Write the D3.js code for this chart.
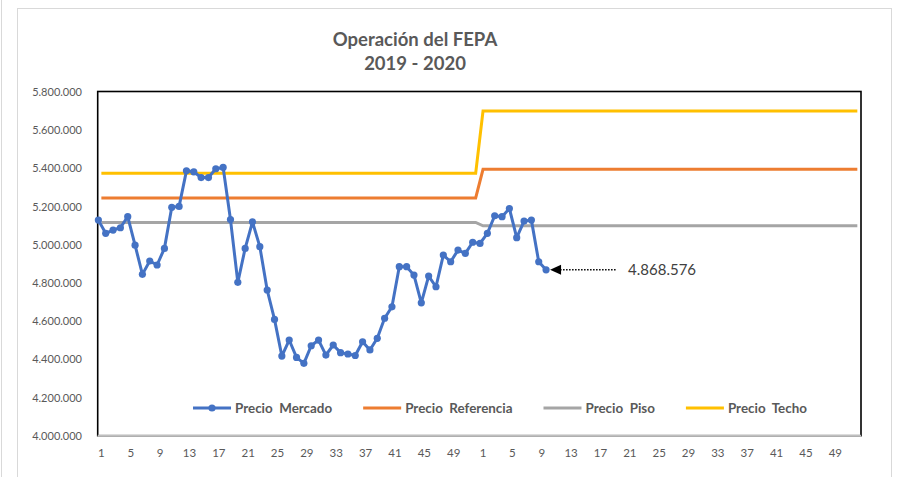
<!DOCTYPE html>
<html>
<head>
<meta charset="utf-8">
<script src="https://cdn.jsdelivr.net/npm/d3@7.9.0/dist/d3.min.js"></script>
<style>
  body { margin: 0; background: #fff; }
  svg { display: block; font-family: Lato, "Open Sans", sans-serif; }
</style>
</head>
<body>
<svg id="chart" width="897" height="477"></svg>
<script>
// data
const years = [2019, 2020];
const weeks = d3.range(1, 53);

const mercado2019 = [
  5129000, 5060000, 5077000, 5089000, 5147000, 4998000, 4845000, 4915000, 4894000, 4981000,
  5196000, 5201000, 5387000, 5382000, 5352000, 5352000, 5398000, 5405000, 5132000, 4803000,
  4981000, 5120000, 4990000, 4763000, 4609000, 4417000, 4501000, 4410000, 4379000, 4471000,
  4501000, 4422000, 4475000, 4435000, 4428000, 4420000, 4492000, 4449000, 4510000, 4615000,
  4675000, 4885000, 4885000, 4841000, 4696000, 4836000, 4780000, 4946000, 4911000, 4972000,
  4955000, 5013000
];
const mercado2020 = [5007000, 5060000, 5152000, 5147000, 5190000, 5037000, 5124000, 5129000, 4911000, 4868576];

// band prices, one per year
const precioReferencia = [5245000, 5395000];
const precioPiso = [5117000, 5099000];
const precioTecho = [5375000, 5700000];

const yTicks = [4000000, 4200000, 4400000, 4600000, 4800000, 5000000, 5200000, 5400000, 5600000, 5800000];

const svg = d3.select("#chart");
const plot = { left: 97.7, top: 91.5, right: 861, bottom: 435.7 };

const categorias = years.flatMap(y => weeks.map(w => ({ key: y + "-" + w, year: y, week: w })));

const x = d3.scaleBand()
  .domain(categorias.map(d => d.key))
  .range([plot.left, plot.right]);

const y = d3.scaleLinear()
  .domain([4000000, 5800000])
  .range([plot.bottom, 92]);

const fmt = d3.formatLocale({ decimal: ",", thousands: ".", grouping: [3], currency: ["$", ""] }).format(",d");

const cx = k => x(k) + x.bandwidth() / 2;

// chart frame
svg.append("line").attr("x1", 1.5).attr("x2", 1.5).attr("y1", 0).attr("y2", 477)
  .attr("stroke", "#d9d9d9");
svg.append("rect").attr("x", 17.5).attr("y", 8.5).attr("width", 874).attr("height", 480)
  .attr("fill", "#fff").attr("stroke", "#d9d9d9");

// title
svg.append("text").attr("x", 415).attr("y", 46).attr("text-anchor", "middle")
  .attr("font-size", 18.5).attr("font-weight", "bold").attr("fill", "#595959")
  .text("Operación del FEPA");
svg.append("text").attr("x", 415).attr("y", 70).attr("text-anchor", "middle")
  .attr("font-size", 18.5).attr("font-weight", "bold").attr("fill", "#595959")
  .text("2019 - 2020");

// y axis labels
svg.append("g")
  .selectAll("text")
  .data(yTicks)
  .join("text")
  .attr("x", 82)
  .attr("y", d => y(d) + 4)
  .attr("text-anchor", "end")
  .attr("font-size", 11)
  .attr("fill", "#595959")
  .text(d => fmt(d));

// x axis labels
svg.append("g")
  .selectAll("text")
  .data(categorias.filter(d => (d.week - 1) % 4 === 0))
  .join("text")
  .attr("x", d => cx(d.key))
  .attr("y", 457)
  .attr("text-anchor", "middle")
  .attr("font-size", 11.5)
  .attr("fill", "#595959")
  .text(d => d.week);

// plot area border
svg.append("rect")
  .attr("x", plot.left).attr("y", plot.top)
  .attr("width", plot.right - plot.left).attr("height", plot.bottom - plot.top)
  .attr("fill", "none").attr("stroke", "#000").attr("stroke-width", 1.6);
svg.append("line")
  .attr("x1", plot.left).attr("x2", plot.right)
  .attr("y1", plot.bottom).attr("y2", plot.bottom)
  .attr("stroke", "#bfbfbf").attr("stroke-width", 2);

// band series
const bandas = [
  { name: "Precio Piso", values: precioPiso, color: "#a5a5a5" },
  { name: "Precio Referencia", values: precioReferencia, color: "#ed7d31" },
  { name: "Precio Techo", values: precioTecho, color: "#ffc000" }
];

const line = d3.line().x(d => d.x).y(d => y(d.v));

bandas.forEach(b => {
  const pts = categorias.map(c => ({ x: cx(c.key), v: b.values[years.indexOf(c.year)] }));
  svg.append("path")
    .attr("d", line(pts))
    .attr("fill", "none")
    .attr("stroke", b.color)
    .attr("stroke-width", 3);
});

// market price (drawn slightly left of the band centres, as in the picture)
const mercadoShift = -3;
const mercadoPts = [
  ...mercado2019.map((v, i) => ({ x: cx("2019-" + weeks[i]) + mercadoShift, v })),
  ...mercado2020.map((v, i) => ({ x: cx("2020-" + weeks[i]) + mercadoShift, v }))
];

svg.append("path")
  .attr("d", line(mercadoPts))
  .attr("fill", "none")
  .attr("stroke", "#4472c4")
  .attr("stroke-width", 3)
  .attr("stroke-linejoin", "round");

svg.append("g")
  .selectAll("circle")
  .data(mercadoPts)
  .join("circle")
  .attr("cx", d => d.x)
  .attr("cy", d => y(d.v))
  .attr("r", 3.6)
  .attr("fill", "#4472c4");

// annotation on the last price
const last = mercadoPts[mercadoPts.length - 1];
const ax = last.x + 4, ay = y(last.v);
svg.append("line")
  .attr("x1", ax + 10).attr("x2", ax + 66)
  .attr("y1", ay).attr("y2", ay)
  .attr("stroke", "#000").attr("stroke-width", 1.5)
  .attr("stroke-dasharray", "1.5,1.5");
svg.append("path")
  .attr("d", `M${ax},${ay} L${ax + 11},${ay - 5} L${ax + 11},${ay + 5} Z`)
  .attr("fill", "#000");
svg.append("text")
  .attr("x", ax + 78).attr("y", ay + 5)
  .attr("font-size", 15)
  .attr("fill", "#404040")
  .text(fmt(last.v));

// legend
const legendItems = [
  { name: "Precio  Mercado", color: "#4472c4", marker: true },
  { name: "Precio  Referencia", color: "#ed7d31" },
  { name: "Precio  Piso", color: "#a5a5a5" },
  { name: "Precio  Techo", color: "#ffc000" }
];
const legend = svg.append("g");
const ly = 408;
let lx = 0;
legendItems.forEach((d, i) => {
  const g = legend.append("g").attr("transform", `translate(${lx},0)`);
  g.append("line").attr("x1", 0).attr("x2", 38).attr("y1", ly).attr("y2", ly)
    .attr("stroke", d.color).attr("stroke-width", 3);
  if (d.marker) g.append("circle").attr("cx", 19).attr("cy", ly).attr("r", 3.6).attr("fill", d.color);
  const t = g.append("text").attr("x", 42).attr("y", ly + 4.8)
    .attr("font-size", 13.4).attr("font-weight", "bold").attr("fill", "#595959")
    .attr("xml:space", "preserve").style("white-space", "pre")
    .text(d.name);
  lx += 42 + t.node().getComputedTextLength() + 31;
});
const legendWidth = lx - 31;
legend.attr("transform", `translate(${500 - legendWidth / 2},0)`);
</script>
</body>
</html>
